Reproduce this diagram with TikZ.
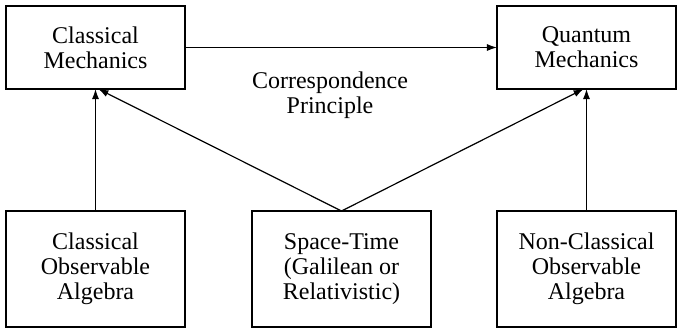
\documentclass[tikz,border=0pt]{standalone}
\usepackage{fontspec}
\setmainfont{Liberation Serif}
\usetikzlibrary{arrows.meta,positioning}

\begin{document}
\begin{tikzpicture}[
    font=\fontsize{12}{12.5}\selectfont,
    line width=0.6pt,
    topbox/.style={rectangle, draw, minimum width=89.5pt, minimum height=41.5pt, inner sep=0pt, outer sep=0pt, align=center},
    botbox/.style={topbox, minimum height=58pt},
    arrow/.style={-{Latex[length=5pt,width=3.5pt]}}
]
\useasboundingbox (0,0) rectangle (338.5pt,-164.5pt);

\node[botbox] (calg) at (47.75pt,-134.5pt) {Classical\\Observable\\Algebra};
\node[botbox, right=33.5pt of calg] (spacetime) {Space-Time\\(Galilean or\\Relativistic)};
\node[botbox, right=33pt of spacetime] (nalg) {Non-Classical\\Observable\\Algebra};
\node[topbox, above=61pt of calg] (classical) {Classical\\Mechanics};
\node[topbox, above=61pt of nalg] (quantum) {Quantum\\Mechanics};

\draw[arrow] (classical) -- node[below=12pt, xshift=-5.5pt, align=center, inner sep=0pt] (corr) {Correspondence\\Principle} (quantum);
\draw[arrow] (calg) -- (classical);
\draw[arrow] (nalg) -- (quantum);
\draw[arrow] (spacetime.north) -- (classical.-86);
\draw[arrow] (spacetime.north) -- (quantum.-94);
\end{tikzpicture}
\end{document}
